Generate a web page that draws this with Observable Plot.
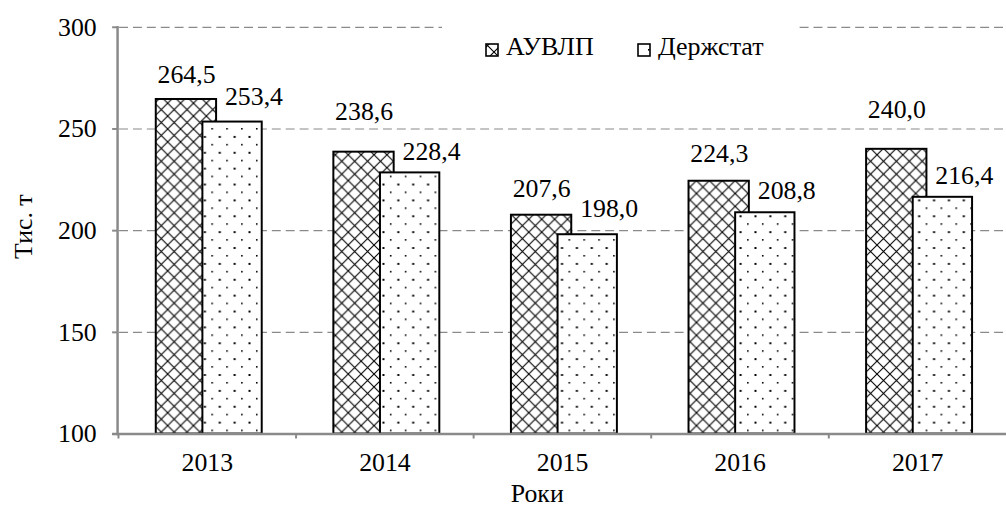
<!DOCTYPE html>
<html><head><meta charset="utf-8">
<script src="https://cdn.jsdelivr.net/npm/d3@7"></script>
<script src="https://cdn.jsdelivr.net/npm/@observablehq/plot@0.6"></script>
<style>
html,body{margin:0;padding:0;background:#fff;overflow:hidden;}
#wrap{position:relative;width:1006px;height:508px;overflow:hidden;font-family:'Liberation Serif', serif;}
#wrap svg{display:block;}
#wrap svg text{font-family:'Liberation Serif', serif !important;}
#legend{position:absolute;left:0;top:0;pointer-events:none;}
</style></head><body>
<svg width="0" height="0" style="position:absolute">
<defs>
<pattern id="hatch" patternUnits="userSpaceOnUse" width="13" height="13">
 <rect width="13" height="13" fill="#fff"/>
 <path d="M-1,-1L14,14M14,-1L-1,14" stroke="#000" stroke-width="1.1"/>
</pattern>
<pattern id="dots" patternUnits="userSpaceOnUse" width="15" height="16">
 <rect width="15" height="16" fill="#fff"/>
 <rect x="3" y="1" width="1.6" height="1.6" fill="#000"/>
 <rect x="10.5" y="9" width="2" height="2" fill="#000"/>
</pattern>
</defs></svg>
<div id="wrap"></div>
<script>
// ---- data ----
const years = ["2013", "2014", "2015", "2016", "2017"];
const seriesNames = ["АУВЛП", "Держстат"];
const auvlp = [264.5, 238.6, 207.6, 224.3, 240.0];
const derzhstat = [253.4, 228.4, 198.0, 208.8, 216.4];
const yTicks = [100, 150, 200, 250, 300];
const xTitle = "Роки";
const yTitle = "Тис. т";

// ---- layout ----
const W = 1014, H = 508, ML = 118, MR = 0, MT = 27, MB = 71;
const step = (W - ML - MR) / years.length;
const fmt = v => v.toFixed(1).replace(".", ",");
const FONT = "Liberation Serif, serif";

const rowsA = years.map((year, i) => ({year, series: seriesNames[0], value: auvlp[i]}));
const rowsB = years.map((year, i) => ({year, series: seriesNames[1], value: derzhstat[i]}));

// manual label nudges (pixels above bar tops), as placed in the original
const liftA = [-17, -32, -18, -19, -32];
const liftB = [-17, -13, -18, -14, -13];

const labelMarks = [];
rowsA.forEach((r, i) => labelMarks.push(Plot.text([r], {x: "year", y: "value", text: d => fmt(d.value), dx: -21, dy: liftA[i], lineAnchor: "bottom", textAnchor: "middle", fill: "#000"})));
rowsB.forEach((r, i) => labelMarks.push(Plot.text([r], {x: "year", y: "value", text: d => fmt(d.value), dx: 47, dy: liftB[i], lineAnchor: "bottom", textAnchor: "middle", fill: "#000"})));

const chart = Plot.plot({
  width: W, height: H,
  marginLeft: ML, marginRight: MR, marginTop: MT, marginBottom: MB,
  style: {fontFamily: FONT, fontSize: "26px", background: "#fff", color: "#000", overflow: "visible"},
  x: {domain: years, padding: 0, axis: null},
  y: {domain: [100, 300], axis: null},
  marks: [
    Plot.ruleY(yTicks.filter(t => t > 100), {y: d => d, stroke: "#8a8a8a", strokeWidth: 1.2, strokeDasharray: "9,5", insetLeft: 2}),
    Plot.barY(rowsA, {x: "year", y1: 100, y2: "value", fill: "url(#hatch)", stroke: "#000", strokeWidth: 2, insetLeft: 38, insetRight: step - 99}),
    Plot.barY(rowsB, {x: "year", y1: 100, y2: "value", fill: "url(#dots)", stroke: "#000", strokeWidth: 2, insetLeft: 85, insetRight: step - 145}),
    Plot.frame({anchor: "left", stroke: "#8a8a8a", strokeWidth: 2.5}),
    Plot.ruleY([100], {stroke: "#8a8a8a", strokeWidth: 2.5, insetLeft: -5}),
    Plot.axisY({ticks: yTicks, tickSize: 5, tickPadding: 16, label: null, stroke: "#8a8a8a", strokeWidth: 2, fill: "#000"}),
    Plot.axisX({tickSize: 0, tickPadding: 19, label: null, fill: "#000"}),
    Plot.axisX({tickSize: 5, tickFormat: () => "", label: null, dx: -step / 2, stroke: "#8a8a8a", strokeWidth: 2}),
    Plot.text([xTitle], {frameAnchor: "bottom", dx: -25, dy: 68, lineAnchor: "bottom", textAnchor: "middle", fill: "#000"}),
    Plot.text([yTitle], {frameAnchor: "left", rotate: -90, dx: -95, dy: -4, lineAnchor: "middle", textAnchor: "middle", fill: "#000"}),
    ...labelMarks
  ]
});
const wrap = document.getElementById("wrap");
wrap.appendChild(chart);

// legend overlay (sits on the plot area, as in the original)
const ns = "http://www.w3.org/2000/svg";
const lg = document.createElementNS(ns, "svg");
lg.setAttribute("id", "legend");
lg.setAttribute("width", 1006);
lg.setAttribute("height", 508);
const mk = (tag, attrs, txt) => { const e = document.createElementNS(ns, tag); for (const k in attrs) e.setAttribute(k, attrs[k]); if (txt != null) e.textContent = txt; lg.appendChild(e); return e; };
mk("rect", {x: 442, y: 20, width: 355, height: 42, fill: "#fff"});
const legendFills = ["url(#hatch)", "url(#dots)"];
const legendX = [486, 638];
seriesNames.forEach((name, i) => {
  mk("rect", {x: legendX[i], y: 44, width: 12, height: 12, fill: legendFills[i], stroke: "#000", "stroke-width": 1.6});
  const t = mk("text", {x: legendX[i] + 20, y: 55, "font-size": 26, fill: "#000"}, name);
  t.style.fontFamily = FONT;
});
wrap.appendChild(lg);
</script>
</body></html>
